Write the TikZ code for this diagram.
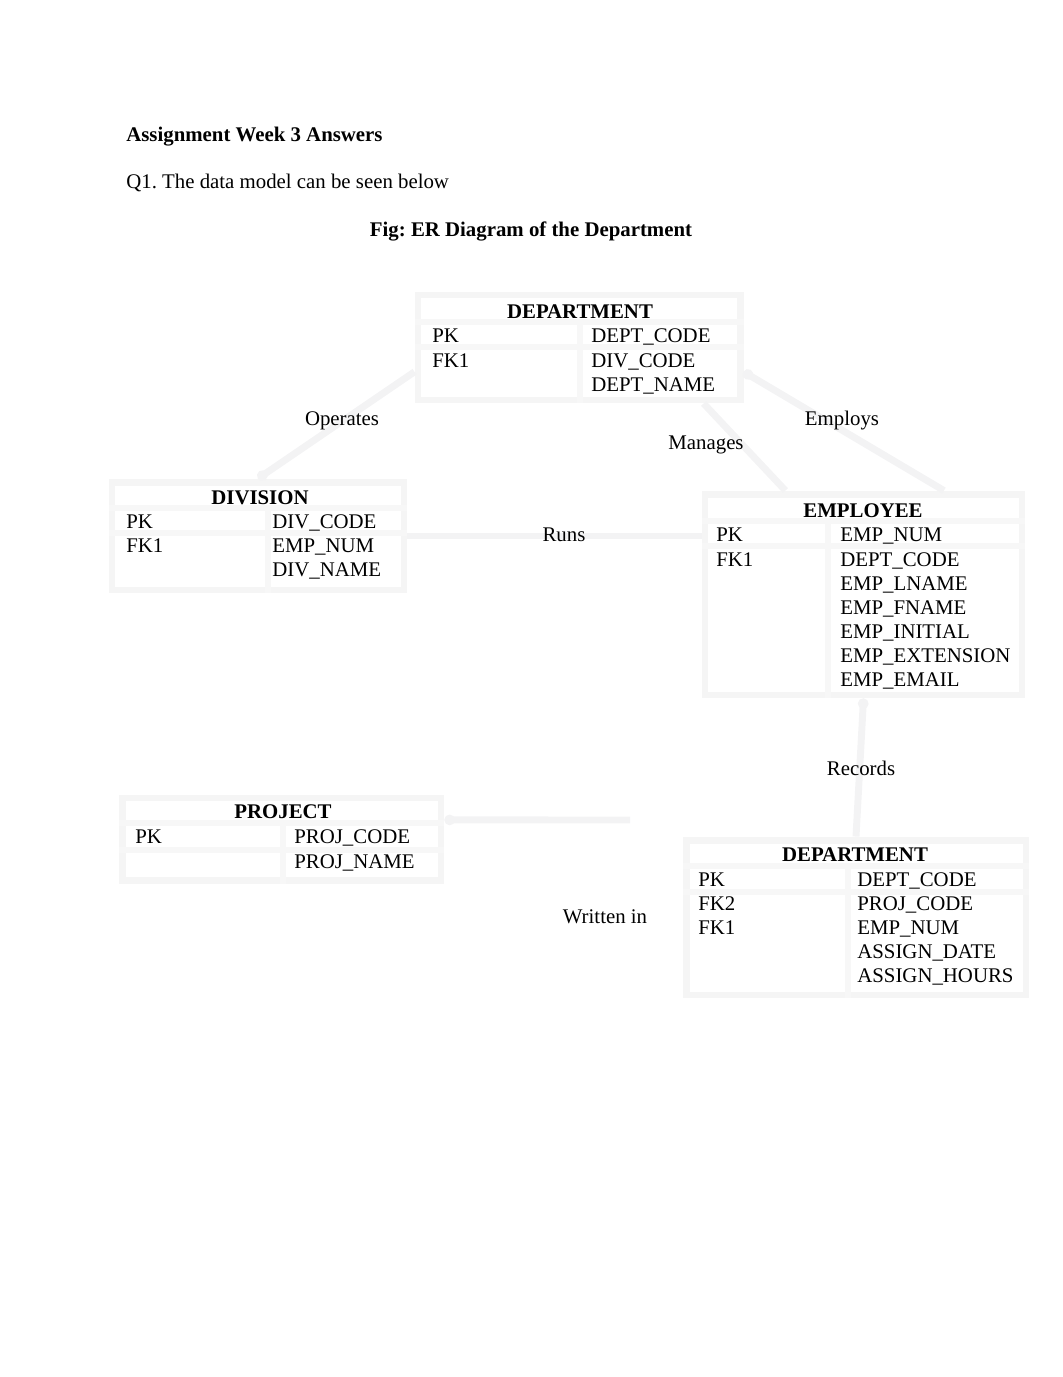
\documentclass[tikz,border=0pt]{standalone}
\usepackage{fontspec}
\setmainfont{Liberation Serif}
\frenchspacing
\usetikzlibrary{positioning}
\usetikzlibrary{arrows.meta}
\tikzset{
    entity/.style = {rectangle, line width=4pt, draw=gray!8, inner sep=0pt},
    rowline/.style = {-, line width=4pt, gray!6},
    edgel/.style = {-, line width=4pt, blue!5!gray!9},
    title/.style = {anchor=base, font=\bfseries, inner sep=0pt},
    field/.style = {anchor=base west, inner sep=0pt},
    rel/.style = {anchor=base, inner sep=0pt},
    every picture/.style={font issue=\fontsize{12}{14}},
    font issue/.style={execute at begin picture={#1\selectfont}}
}
\begin{document}
\begin{tikzpicture}[x=0.5763pt,y=-0.5763pt]
\path[use as bounding box] (0,0) rectangle (1062,1377);

% heading
\node[field, font=\bfseries] at (126,142) (head) {Assignment Week 3 Answers};
\node[field] at (126,189) (q1) {Q1. The data model can be seen below};
\node[title] at (531,237) (fig) {Fig: ER Diagram of the Department};

% boxes
\node[entity, minimum width=185.6pt, minimum height=60.5pt] at (579,347.5) (dept) {};
\node[entity, minimum width=168.3pt, minimum height=62.2pt] at (258,536) (div) {};
\node[entity, minimum width=182.7pt, minimum height=115.8pt] at (863.5,594.5) (emp) {};
\node[entity, minimum width=183.8pt, minimum height=47.3pt] at (281.5,839) (proj) {};
\node[entity, minimum width=195.9pt, minimum height=89.3pt] at (856,917.5) (dept2) {};

\draw[rowline] (dept.west |- 0,322) -- (dept.east |- 0,322);
\draw[rowline] (dept.west |- 0,347) -- (dept.east |- 0,347);
\draw[rowline] (580,322) -- (580,0 |- dept.south);
\draw[rowline] (div.west |- 0,508) -- (div.east |- 0,508);
\draw[rowline] (div.west |- 0,533) -- (div.east |- 0,533);
\draw[rowline] (268,508) -- (268,0 |- div.south);
\draw[rowline] (emp.west |- 0,521) -- (emp.east |- 0,521);
\draw[rowline] (emp.west |- 0,546) -- (emp.east |- 0,546);
\draw[rowline] (828,521) -- (828,0 |- emp.south);
\draw[rowline] (proj.west |- 0,823) -- (proj.east |- 0,823);
\draw[rowline] (proj.west |- 0,850) -- (proj.east |- 0,850);
\draw[rowline] (283,823) -- (283,0 |- proj.south);
\draw[rowline] (dept2.west |- 0,866) -- (dept2.east |- 0,866);
\draw[rowline] (dept2.west |- 0,892) -- (dept2.east |- 0,892);
\draw[rowline] (848,866) -- (848,0 |- dept2.south);

% connectors
\coordinate (wend) at (630,820);
\draw[edgel,-{Circle[length=6pt]}] ([yshift=-14pt]dept.west) -- (div.north);
\draw[edgel,{Circle[length=6pt]}-] ([yshift=-14pt]dept.east) -- ([xshift=-47pt]emp.north east);
\draw[edgel] ([xshift=-23pt]dept.south east) -- ([xshift=-45pt]emp.north);
\draw[edgel] (div.east) -- (emp.west |- div.east);
\draw[edgel,{Circle[length=6pt]}-] (emp.south) -- (dept2.north);
\draw[edgel,{Circle[length=6pt]}-] ([yshift=11pt]proj.east) -- (wend);

% DEPARTMENT
\node[title] at (580,318) (deptt) {DEPARTMENT};
\node[field] at (432,342) (deptk1) {PK};
\node[field] at (432,367) (deptk2) {FK1};
\node[field] at (591,342) (deptf1) {DEPT\_CODE};
\node[field] at (591,367) (deptf2) {DIV\_CODE};
\node[field] at (591,391) (deptf3) {DEPT\_NAME};

% DIVISION
\node[title] at (260,504) (divt) {DIVISION};
\node[field] at (126,528) (divk1) {PK};
\node[field] at (126,552) (divk2) {FK1};
\node[field] at (272,528) (divf1) {DIV\_CODE};
\node[field] at (272,552) (divf2) {EMP\_NUM};
\node[field] at (272,576) (divf3) {DIV\_NAME};

% EMPLOYEE
\node[title] at (863,517) (empt) {EMPLOYEE};
\node[field] at (716,541) (empk1) {PK};
\node[field] at (716,566) (empk2) {FK1};
\node[field] at (840,541) (empf1) {EMP\_NUM};
\node[field] at (840,566) (empf2) {DEPT\_CODE};
\node[field] at (840,590) (empf3) {EMP\_LNAME};
\node[field] at (840,614) (empf4) {EMP\_FNAME};
\node[field] at (840,638) (empf5) {EMP\_INITIAL};
\node[field] at (840,662) (empf6) {EMP\_EXTENSION};
\node[field] at (840,686) (empf7) {EMP\_EMAIL};

% PROJECT
\node[title] at (283,818) (projt) {PROJECT};
\node[field] at (135,843) (projk1) {PK};
\node[field] at (294,843) (projf1) {PROJ\_CODE};
\node[field] at (294,868) (projf2) {PROJ\_NAME};

% DEPARTMENT (assign)
\node[title] at (855,861) (dept2t) {DEPARTMENT};
\node[field] at (698,886) (dept2k1) {PK};
\node[field] at (698,910) (dept2k2) {FK2};
\node[field] at (698,934) (dept2k3) {FK1};
\node[field] at (857,886) (dept2f1) {DEPT\_CODE};
\node[field] at (857,910) (dept2f2) {PROJ\_CODE};
\node[field] at (857,934) (dept2f3) {EMP\_NUM};
\node[field] at (857,958) (dept2f4) {ASSIGN\_DATE};
\node[field] at (857,982) (dept2f5) {ASSIGN\_HOURS};

% relationship names
\node[rel] at (342,425) (operates) {Operates};
\node[rel] at (842,425) (employs) {Employs};
\node[rel] at (706,449) (manages) {Manages};
\node[rel] at (564,541) (runs) {Runs};
\node[rel] at (861,775) (records) {Records};
\node[rel] at (605,923) (written) {Written in};

\end{tikzpicture}
\end{document}
